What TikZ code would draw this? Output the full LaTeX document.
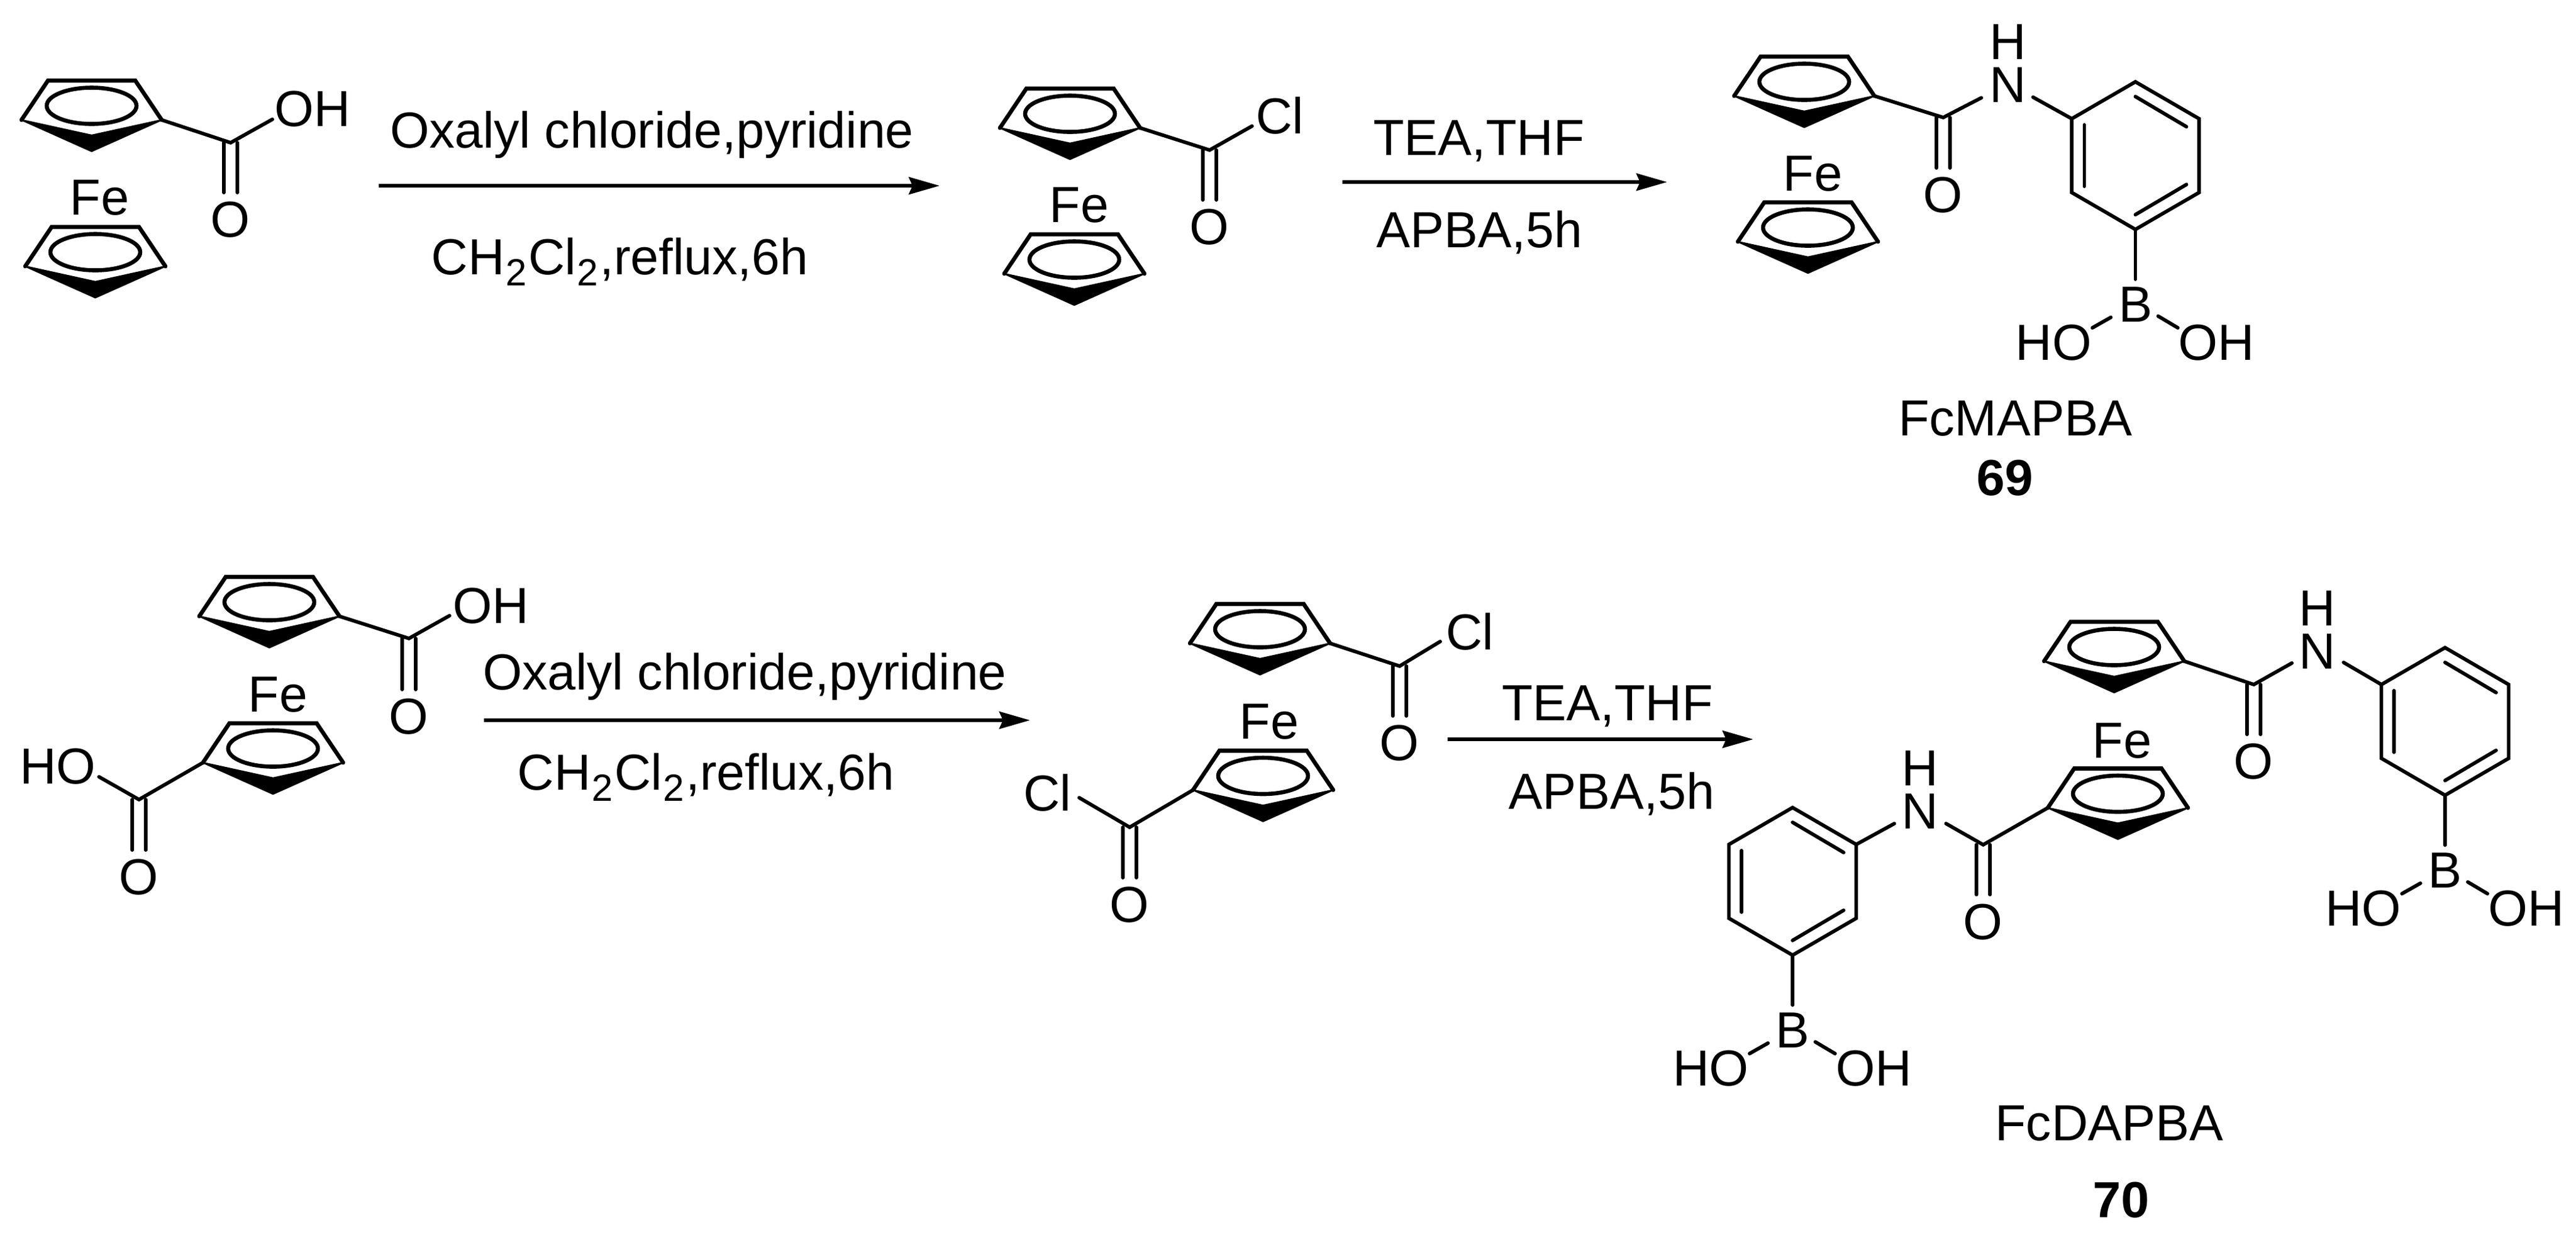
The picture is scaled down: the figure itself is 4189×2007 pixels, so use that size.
\documentclass[tikz,border=0pt]{standalone}
\usepackage{fontspec}
\setmainfont{Liberation Sans}
\usetikzlibrary{arrows.meta}
\tikzset{atom/.style={inner sep=0pt, outer sep=0pt, text height=14.75pt, text depth=0pt, font=\fontsize{20.6}{24}\selectfont},
         label/.style={atom},
         amine/.style={inner sep=0pt, outer sep=0pt, align=center, font=\fontsize{20.6}{17.5}\selectfont},
         bond/.style={line width=1.45pt, line join=miter, line cap=round},
         rxnarrow/.style={line width=1.5pt, -{Stealth[length=12.5pt, width=7pt, inset=1.5pt]}}}
\newcommand{\subtwo}{\kern0.5pt\raisebox{-4.5pt}{\fontsize{15.4}{16}\selectfont 2}\kern0.5pt}

% Cyclopentadienyl ring, ends in (name-l) and (name-r)
\newcommand{\cpring}[3]{
  \begin{scope}[shift={(#2,#3)}]
    \coordinate (#1) at (0,0);
    \coordinate (#1-l) at (-114,23);
    \coordinate (#1-r) at (114,23);
    \coordinate (#1-tl) at (-71,-41);
    \coordinate (#1-tr) at (71,-41);
    \coordinate (#1-in) at (0,48);
    \coordinate (#1-out) at (0,74);
  \end{scope}
  \draw[bond, line width=1.65pt] (#1-l) -- (#1-tl) -- (#1-tr) -- (#1-r);
  \draw[bond, line width=0.6pt, line join=round, fill=black] (#1-l) -- (#1-in) -- (#1-r) -- (#1-out) -- cycle;
  \draw[bond, line width=1.65pt] (#1) ellipse [x radius=73, y radius=29.5];
}

% Phenyl ring with its B(OH)2
\newcommand{\boronicring}[3]{
  \begin{scope}[shift={(#2,#3)}]
    \coordinate (#1-ul) at (-103.5,-60);
    \coordinate (#1-t) at (0,-120);
    \coordinate (#1-ur) at (103.5,-60);
    \coordinate (#1-lr) at (103.5,60);
    \coordinate (#1-bt) at (0,120);
    \coordinate (#1-ll) at (-103.5,60);
    \coordinate (#1-a1) at (-83,-50);
    \coordinate (#1-a2) at (-83,50);
    \coordinate (#1-b1) at (0,-96);
    \coordinate (#1-b2) at (83,-47);
    \coordinate (#1-c1) at (83,47);
    \coordinate (#1-c2) at (0,96);
    \node[atom] (#1-bor) at (0,241) {B};
    \node[atom] (#1-ho) at (-133,303) {HO};
    \node[atom] (#1-oh) at (132,303) {OH};
  \end{scope}
  \draw[bond] (#1-ul) -- (#1-t) -- (#1-ur) -- (#1-lr) -- (#1-bt) -- (#1-ll) -- cycle;
  \draw[bond] (#1-a1) -- (#1-a2);
  \draw[bond] (#1-b1) -- (#1-b2);
  \draw[bond] (#1-c1) -- (#1-c2);
  \draw[bond] (#1-bt) -- ([shift={(0,-40)}]#1-bor.center);
  \draw[bond] ([shift={(-40,22)}]#1-bor.center) -- ([shift={(63,-23)}]#1-ho.center);
  \draw[bond] ([shift={(37,20)}]#1-bor.center) -- ([shift={(-63,-23)}]#1-oh.center);
}

% C=O drawn as two lines from the carbon to the oxygen label
\newcommand{\carbonyl}[2]{
  \draw[bond] ([shift={(-11,0)}]#1.center) -- ([shift={(-11,-43)}]#2.center);
  \draw[bond] ([shift={(11,0)}]#1.center) -- ([shift={(11,-43)}]#2.center);
}

\begin{document}
\begin{tikzpicture}[x=0.25pt, y=-0.25pt]
\useasboundingbox (0,0) rectangle (4189,2007);

% Ferrocene acid
\cpring{ringA}{149}{172}
\cpring{ringAb}{155}{410}
\node[atom] (feA) at (162,320) {Fe};
\coordinate (cA) at (375,232);
\node[atom] (ohA) at (508,176) {OH};
\node[atom] (oA) at (375,356) {O};
\draw[bond] (ringA-r) -- (cA) -- ([shift={(-65,18)}]ohA.center);
\carbonyl{cA}{oA}

% Acid chloride
\cpring{ringB}{1740}{185}
\cpring{ringBb}{1747}{422}
\node[atom] (feB) at (1755,332) {Fe};
\coordinate (cB) at (1967,244);
\node[atom] (clB) at (2081,188) {Cl};
\node[atom] (oB) at (1967,368) {O};
\draw[bond] (ringB-r) -- (cB) -- ([shift={(-45,17)}]clB.center);
\carbonyl{cB}{oB}

% FcMAPBA
\cpring{ringC}{2934}{133}
\cpring{ringCb}{2940}{370}
\node[atom] (feC) at (2948,281) {Fe};
\coordinate (cC) at (3160,191);
\node[atom] (oC) at (3160,316) {O};
\node[amine] (nC) at (3265,103) {H\\N};
\boronicring{phC}{3472.5}{253}
\draw[bond] (ringC-r) -- (cC) -- ([shift={(-43,56)}]nC.center);
\draw[bond] ([shift={(41,55)}]nC.center) -- (phC-ul);
\carbonyl{cC}{oC}
\node[label] (nameC) at (3277,679) {FcMAPBA};
\node[label, font=\fontsize{20.6}{24}\selectfont\bfseries] (numC) at (3260,776) {69};

% Ferrocene diacid
\cpring{ringD}{438}{979}
\cpring{ringDb}{444}{1217}
\node[atom] (feD) at (452,1128) {Fe};
\coordinate (cD) at (665,1038);
\node[atom] (ohD) at (798,984) {OH};
\node[atom] (oD) at (665,1164) {O};
\draw[bond] (ringD-r) -- (cD) -- ([shift={(-67,17)}]ohD.center);
\carbonyl{cD}{oD}
\coordinate (cDb) at (226,1300);
\node[atom] (hoD) at (94,1245) {HO};
\node[atom] (oDb) at (226,1425) {O};
\draw[bond] (ringDb-l) -- (cDb) -- ([shift={(67,18)}]hoD.center);
\carbonyl{cDb}{oDb}

% Diacid chloride
\cpring{ringE}{2049}{1023}
\cpring{ringEb}{2054}{1261.5}
\node[atom] (feE) at (2064,1172) {Fe};
\coordinate (cE) at (2276,1083);
\node[atom] (clE) at (2390,1027) {Cl};
\node[atom] (oE) at (2276,1207) {O};
\draw[bond] (ringE-r) -- (cE) -- ([shift={(-48,16)}]clE.center);
\carbonyl{cE}{oE}
\coordinate (cEb) at (1837,1345);
\node[atom] (clEb) at (1703,1289) {Cl};
\node[atom] (oEb) at (1837,1470) {O};
\draw[bond] (ringEb-l) -- (cEb) -- ([shift={(52,8)}]clEb.center);
\carbonyl{cEb}{oEb}

% FcDAPBA
\cpring{ringF}{3438}{1052}
\cpring{ringFb}{3444}{1290.5}
\node[atom] (feF) at (3451,1203) {Fe};
\coordinate (cF) at (3665,1113);
\node[atom] (oF) at (3665,1237) {O};
\node[amine] (nF) at (3768,1024) {H\\N};
\boronicring{phF}{3976}{1173}
\draw[bond] (ringF-r) -- (cF) -- ([shift={(-41,54)}]nF.center);
\draw[bond] ([shift={(43,53)}]nF.center) -- (phF-ul);
\carbonyl{cF}{oF}
\coordinate (cFb) at (3225,1373.5);
\node[atom] (oFb) at (3225,1497.5) {O};
\node[amine] (nFb) at (3122.5,1284) {H\\N};
\boronicring{phFb}{2915}{1433}
\draw[bond] (ringFb-l) -- (cFb) -- ([shift={(42,55)}]nFb.center);
\draw[bond] ([shift={(-42,55)}]nFb.center) -- (phFb-ur);
\carbonyl{cFb}{oFb}
\node[label] (nameF) at (3430,1825) {FcDAPBA};
\node[label, font=\fontsize{20.6}{24}\selectfont\bfseries] (numF) at (3449,1950) {70};

% Arrows
\coordinate (a1s) at (616,302);
\coordinate (a1e) at (1528,302);
\draw[rxnarrow] (a1s) -- (a1e);
\node[label] (a1top) at (1060,211) {Oxalyl chloride,pyridine};
\node[label] (a1bot) at (1008,417) {CH\subtwo Cl\subtwo,reflux,6h};
\coordinate (a2s) at (2183,296);
\coordinate (a2e) at (2711,296);
\draw[rxnarrow] (a2s) -- (a2e);
\node[label] (a2top) at (2405,223) {TEA,THF};
\node[label] (a2bot) at (2406,373) {APBA,5h};
\coordinate (a3s) at (787,1171);
\coordinate (a3e) at (1675,1171);
\draw[rxnarrow] (a3s) -- (a3e);
\node[label] (a3top) at (1211,1092) {Oxalyl chloride,pyridine};
\node[label] (a3bot) at (1148,1255) {CH\subtwo Cl\subtwo,reflux,6h};
\coordinate (a4s) at (2354,1202);
\coordinate (a4e) at (2851,1202);
\draw[rxnarrow] (a4s) -- (a4e);
\node[label] (a4top) at (2614,1142) {TEA,THF};
\node[label] (a4bot) at (2621,1286) {APBA,5h};

\end{tikzpicture}
\end{document}
